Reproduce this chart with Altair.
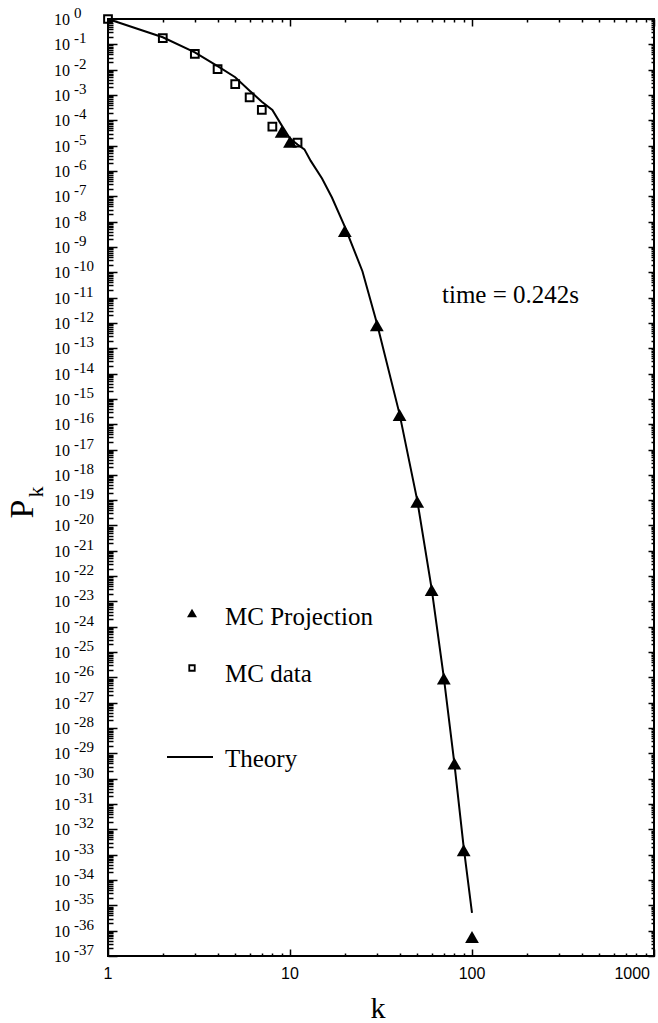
import altair as alt
import pandas as pd

# Monte Carlo data (open squares)
mc_data_k = [1, 2, 3, 4, 5, 6, 7, 8, 11]
mc_data_p = [1.0, 1.74e-1, 4.17e-2, 1.05e-2, 2.69e-3, 8.1e-4, 2.57e-4, 5.6e-5, 1.32e-5]

# Monte Carlo projection (filled triangles)
mc_proj_k = [9, 10, 20, 30, 40, 50, 60, 70, 80, 90, 100]
mc_proj_p = [3.55e-5, 1.41e-5, 4.27e-9, 8.13e-13, 2.29e-16, 8.71e-20,
             2.82e-23, 9.12e-27, 3.98e-30, 1.51e-33, 5.62e-37]

# Theory curve
theory_k = [1, 2, 3, 4, 5, 6, 7, 8, 9, 10, 11, 12, 13, 15, 17, 20, 25, 30,
            40, 50, 60, 70, 80, 90, 100]
theory_p = [1.0, 1.9e-1, 4.8e-2, 1.38e-2, 5.0e-3, 1.48e-3, 5.4e-4, 2.57e-4,
            6.3e-5, 1.9e-5, 1.1e-5, 7.1e-6, 2.5e-6, 5.0e-7, 8.9e-8, 6.3e-9,
            1.1e-10, 1.0e-12, 2.5e-16, 1.0e-19, 3.2e-23, 1.0e-26, 4.0e-30,
            2.0e-33, 5.0e-36]

# Axis ranges and tick positions
k_domain = [1, 1000]
p_domain = [1e-37, 1]
x_label_values = [1, 10, 100, 1000]
x_label_texts = ["1", "10", "100", "1000"]
x_tick_values = [m * 10 ** n for n in range(0, 3) for m in range(1, 10)] + [1000]
y_exponents = list(range(-37, 1))
y_major_values = [10.0 ** n for n in y_exponents]
y_tick_values = [m * 10.0 ** n for n in range(-37, 0) for m in range(1, 10)] + [1.0]

legend_labels = ["MC Projection", "MC data", "Theory"]
annotation = "time = 0.242s"

W, H = 546, 937
SERIF = "Liberation Serif"

xscale = alt.Scale(type="log", domain=k_domain, nice=False)
yscale = alt.Scale(type="log", domain=p_domain, nice=False)

# decades get long ticks, the 2..9 multiples short ones; negative = pointing inward
IS_DECADE = "abs(log(datum.value) / LN10 - round(log(datum.value) / LN10)) < 0.001"


def frame_axis(values, orient, major, minor):
    return alt.Axis(
        orient=orient,
        values=values,
        labels=False,
        domain=False,
        grid=False,
        title=None,
        ticks=True,
        tickColor="black",
        tickWidth=1.5,
        tickSize={"expr": f"{IS_DECADE} ? {-major} : {-minor}"},
    )


theory_df = pd.DataFrame({"k": theory_k, "p": theory_p})
data_df = pd.DataFrame({"k": mc_data_k, "p": mc_data_p})
proj_df = pd.DataFrame({"k": mc_proj_k, "p": mc_proj_p})

# theory line carries the left/bottom frame ticks
theory = alt.Chart(theory_df).mark_line(color="black", strokeWidth=2).encode(
    x=alt.X("k:Q", scale=xscale, axis=frame_axis(x_tick_values, "bottom", 7, 3)),
    y=alt.Y("p:Q", scale=yscale, axis=frame_axis(y_tick_values, "left", 9, 5)),
)

# MC data squares carry the right/top frame ticks
squares = alt.Chart(data_df).mark_point(
    shape="square", filled=False, color="black", size=60, strokeWidth=2, opacity=1
).encode(
    x=alt.X("k:Q", scale=xscale, axis=frame_axis(x_tick_values, "top", 7, 3)),
    y=alt.Y("p:Q", scale=yscale, axis=frame_axis(y_tick_values, "right", 6, 3)),
)


def X(field):
    return alt.X(field, scale=xscale, axis=None)


def Y(field):
    return alt.Y(field, scale=yscale, axis=None)


triangles = alt.Chart(proj_df).mark_point(
    shape="triangle-up", filled=True, color="black", size=190, opacity=1
).encode(x=X("k:Q"), y=Y("p:Q"))

# y tick labels: "10" with a raised exponent
ylab_df = pd.DataFrame({
    "v": y_major_values,
    "base": ["10"] * len(y_exponents),
    "exp": [str(n) for n in y_exponents],
})
ylab_base = alt.Chart(ylab_df).mark_text(
    align="left", baseline="middle", font=SERIF, fontSize=16, color="black", dy=1
).encode(y=Y("v:Q"), x=alt.value(-54), text="base:N")
ylab_exp = alt.Chart(ylab_df).mark_text(
    align="left", baseline="middle", font=SERIF, fontSize=15, color="black", dy=-6
).encode(y=Y("v:Q"), x=alt.value(-34), text="exp:N")

# x tick labels; the last one is kept inside the frame
xlab_df = pd.DataFrame({"v": x_label_values[:-1], "t": x_label_texts[:-1]})
xlab_last_df = pd.DataFrame({"v": x_label_values[-1:], "t": x_label_texts[-1:]})
xlab = alt.Chart(xlab_df).mark_text(
    align="center", baseline="middle", font="Liberation Sans", fontSize=16, color="black"
).encode(x=X("v:Q"), y=alt.value(955), text="t:N")
xlab_last = alt.Chart(xlab_last_df).mark_text(
    align="right", baseline="middle", font="Liberation Sans", fontSize=16, color="black", dx=-4
).encode(x=X("v:Q"), y=alt.value(955), text="t:N")


def label(text, x, y, size, angle=0, align="left"):
    return alt.Chart(pd.DataFrame({"t": [text]})).mark_text(
        align=align, baseline="alphabetic", font=SERIF, fontSize=size,
        color="black", angle=angle
    ).encode(x=alt.value(x), y=alt.value(y), text="t:N")


# axis titles
x_title = label("k", 270, 999, 30, align="center")
y_title_p = label("P", -75, 490, 34, angle=270, align="center")
y_title_k = label("k", -65, 473, 22, angle=270, align="center")

# annotation
time_text = label(annotation, 334, 284, 25)

# legend
leg_tri = alt.Chart(pd.DataFrame({"t": [legend_labels[0]]})).mark_point(
    shape="triangle-up", filled=True, color="black", size=100, opacity=1
).encode(x=alt.value(84), y=alt.value(594))
leg_sq = alt.Chart(pd.DataFrame({"t": [legend_labels[1]]})).mark_point(
    shape="square", filled=False, color="black", size=30, strokeWidth=1.8, opacity=1
).encode(x=alt.value(84), y=alt.value(649))
leg_line = alt.Chart(pd.DataFrame({"t": [legend_labels[2]]})).mark_rule(
    color="black", strokeWidth=2
).encode(x=alt.value(59), x2=alt.value(105), y=alt.value(738))
leg_texts = [
    label(legend_labels[0], 117, 606, 25),
    label(legend_labels[1], 117, 663, 25),
    label(legend_labels[2], 117, 748, 25),
]

chart = alt.layer(
    theory, squares, triangles,
    ylab_base, ylab_exp, xlab, xlab_last, x_title, y_title_p, y_title_k,
    time_text, leg_tri, leg_sq, leg_line, *leg_texts,
).resolve_axis(
    x="independent", y="independent"
).properties(
    width=W,
    height=H,
    padding={"left": 108, "top": 19, "right": 4, "bottom": 67},
    autosize="none",
    background="white",
).configure_view(
    stroke="black", strokeWidth=2
)

chart.save("out.html", embed_options={"renderer": "svg", "actions": False})
